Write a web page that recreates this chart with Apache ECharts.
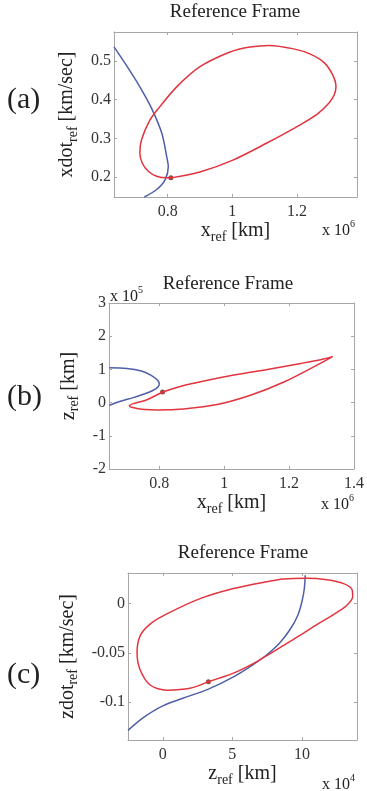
<!DOCTYPE html>
<html>
<head>
<meta charset="utf-8">
<script src="https://cdn.jsdelivr.net/npm/echarts@6/dist/echarts.min.js"></script>
<style>html,body{margin:0;padding:0;background:#fff;}#c{width:367px;height:791px;}</style>
</head>
<body>
<div id="c"></div>
<script>
// ---------- Panel (a): x_ref (x10^6 km) vs xdot_ref (km/sec)
var aRedX  = [0.810,0.900,1.000,1.107,1.210,1.265,1.300,1.316,1.321,1.312,1.285,1.240,1.190,1.115,1.055,0.993,0.900,0.828,0.776,0.745,0.719,0.714,0.722,0.740,0.766,0.797,0.810];
var aRedY  = [0.198,0.213,0.243,0.288,0.335,0.364,0.392,0.413,0.435,0.462,0.495,0.518,0.531,0.540,0.536,0.523,0.485,0.433,0.382,0.347,0.296,0.262,0.235,0.215,0.202,0.198,0.198];
var aBlueX = [0.634,0.675,0.714,0.750,0.782,0.797,0.802,0.792,0.766,0.728];
var aBlueY = [0.536,0.485,0.433,0.378,0.313,0.253,0.227,0.193,0.168,0.1486];
var aDot   = [0.810,0.198];
var aXTicks = [0.8,1,1.2];
var aYTicks = [0.2,0.3,0.4,0.5];

// ---------- Panel (b): x_ref (x10^6 km) vs z_ref (x10^5 km)
var bRedX  = [0.810,0.870,0.927,1.030,1.133,1.236,1.300,1.334,1.290,1.184,1.081,0.978,0.875,0.800,0.745,0.715,0.708,0.720,0.760,0.810];
var bRedY  = [0.32,0.50,0.63,0.83,1.00,1.18,1.30,1.385,1.15,0.62,0.22,-0.06,-0.19,-0.225,-0.20,-0.14,-0.10,-0.03,0.08,0.32];
var bBlueX = [0.646,0.700,0.745,0.775,0.795,0.800,0.790,0.760,0.720,0.680,0.646];
var bBlueY = [1.05,1.03,0.95,0.82,0.67,0.55,0.42,0.28,0.15,0.04,-0.08];
var bDot   = [0.810,0.32];
var bXTicks = [0.8,1,1.2,1.4];
var bYTicks = [-2,-1,0,1,2,3];

// ---------- Panel (c): z_ref (x10^4 km) vs zdot_ref (km/sec)
var cRedX  = [3.28,5.08,6.5,7.48,8.68,9.88,11.1,12.27,13.2,13.65,13.6,13.0,11.8,10.3,8.68,7.48,5.08,2.68,0.29,-0.91,-1.63,-1.85,-1.63,-0.91,0.29,1.96,3.28];
var cRedY  = [-0.0794,-0.0707,-0.061,-0.0528,-0.0425,-0.032,-0.021,-0.011,-0.002,0.007,0.0145,0.0205,0.0245,0.026,0.0252,0.0225,0.0155,0.0052,-0.0104,-0.0207,-0.0328,-0.05,-0.0673,-0.0828,-0.088,-0.0862,-0.0794];
var cBlueX = [-2.5,-1.4,0.0,1.5,3.28,5.08,6.5,7.48,8.4,9.16,9.7,10.0,10.17,10.24];
var cBlueY = [-0.129,-0.116,-0.104,-0.096,-0.087,-0.0745,-0.062,-0.052,-0.04,-0.026,-0.012,0.002,0.015,0.029];
var cDot   = [3.28,-0.0794];
var cXTicks = [0,5,10];
var cYTicks = [-0.1,-0.05,0];

var SERIF = "'Liberation Serif','DejaVu Serif',serif";
var RED = '#e2343f', BLUE = '#4e5fa8', DOT = '#7a1a1a', AX = '#a6a6a6';

function zip(xs, ys){ return xs.map(function(v,i){ return [v, ys[i]]; }); }

var grids = [
  {left:114, top:32, width:243, height:165},
  {left:109, top:303, width:247, height:166},
  {left:128, top:573, width:229, height:167}
];
var ranges = [
  {x:[0.634,1.386], y:[0.1486,0.5746], xt:aXTicks, yt:aYTicks},
  {x:[0.645,1.4],   y:[-2,3],          xt:bXTicks, yt:bYTicks},
  {x:[-2.5,13.96],  y:[-0.1388,0.0313], xt:cXTicks, yt:cYTicks}
];
var names = [
  {x:'{m|x}{s|ref}{m| [km]}', y:'{m|xdot}{s|ref}{m| [km/sec]}', xg:21, yg:27},
  {x:'{m|x}{s|ref}{m| [km]}', y:'{m|z}{s|ref}{m| [km]}', xg:21, yg:27},
  {x:'{m|z}{s|ref}{m| [km]}', y:'{m|zdot}{s|ref}{m| [km/sec]}', xg:21, yg:27}
];
var nameStyle = {
  fontFamily: SERIF, fontSize: 20, color: '#222',
  rich: {
    m: {fontFamily: SERIF, fontSize: 20, color: '#222'},
    s: {fontFamily: SERIF, fontSize: 14, color: '#222', padding: [12,0,0,0]}
  }
};

var xAxes = [], yAxes = [];
grids.forEach(function(g, i){
  var r = ranges[i];
  xAxes.push({
    type:'value', gridIndex:i, min:r.x[0], max:r.x[1], position:'bottom',
    name: names[i].x, nameLocation:'middle', nameGap:names[i].xg, nameTextStyle:nameStyle,
    splitLine:{show:false},
    axisLine:{show:true, onZero:false, lineStyle:{color:AX, width:1}},
    axisTick:{show:true, inside:true, length:3, lineStyle:{color:AX}, customValues:r.xt},
    axisLabel:{fontFamily:SERIF, fontSize:16, color:'#333', margin:7, customValues:r.xt, showMinLabel:true, showMaxLabel:true}
  });
  xAxes.push({
    type:'value', gridIndex:i, min:r.x[0], max:r.x[1], position:'top',
    splitLine:{show:false},
    axisLine:{show:true, onZero:false, lineStyle:{color:AX, width:1}},
    axisTick:{show:true, inside:true, length:3, lineStyle:{color:AX}, customValues:r.xt},
    axisLabel:{show:false}
  });
  yAxes.push({
    type:'value', gridIndex:i, min:r.y[0], max:r.y[1], position:'left',
    name: names[i].y, nameLocation:'middle', nameGap:names[i].yg, nameRotate:90, nameTextStyle:nameStyle,
    splitLine:{show:false},
    axisLine:{show:true, onZero:false, lineStyle:{color:AX, width:1}},
    axisTick:{show:true, inside:true, length:3, lineStyle:{color:AX}, customValues:r.yt},
    axisLabel:{fontFamily:SERIF, fontSize:16, color:'#333', margin:3, customValues:r.yt, showMinLabel:true, showMaxLabel:true}
  });
  yAxes.push({
    type:'value', gridIndex:i, min:r.y[0], max:r.y[1], position:'right',
    splitLine:{show:false},
    axisLine:{show:true, onZero:false, lineStyle:{color:AX, width:1}},
    axisTick:{show:true, inside:true, length:3, lineStyle:{color:AX}, customValues:r.yt},
    axisLabel:{show:false}
  });
});

function lineSeries(i, data, color){
  return {type:'line', xAxisIndex:2*i, yAxisIndex:2*i, data:data, showSymbol:false, symbol:'none',
          smooth:0.3, lineStyle:{color:color, width:1.5}, clip:true, silent:true, animation:false};
}
function dotSeries(i, d){
  return {type:'scatter', xAxisIndex:2*i, yAxisIndex:2*i, data:[d], symbolSize:5,
          itemStyle:{color:DOT}, silent:true, animation:false};
}

var series = [
  lineSeries(0, zip(aBlueX,aBlueY), BLUE),
  lineSeries(0, zip(aRedX,aRedY), RED),
  dotSeries(0, aDot),
  lineSeries(1, zip(bBlueX,bBlueY), BLUE),
  lineSeries(1, zip(bRedX,bRedY), RED),
  dotSeries(1, bDot),
  lineSeries(2, zip(cBlueX,cBlueY), BLUE),
  lineSeries(2, zip(cRedX,cRedY), RED),
  dotSeries(2, cDot)
];

function txt(t, x, y, size, align, vAlign){
  return {type:'text', x:x, y:y, silent:true,
          style:{text:t, font: size + 'px ' + SERIF, fill:'#222', align:align||'left', verticalAlign:vAlign||'middle'}};
}

var graphic = [
  txt('Reference Frame', 235, 12, 19, 'center'),
  txt('Reference Frame', 228, 284, 19, 'center'),
  txt('Reference Frame', 243, 553, 19, 'center'),
  txt('(a)', 7, 100, 30, 'left'),
  txt('(b)', 7, 397, 30, 'left'),
  txt('(c)', 7, 675, 30, 'left'),
  // multipliers
  txt('x 10', 322, 231, 16, 'left'), txt('6', 350, 224, 10, 'left'),
  txt('x 10', 110, 297, 16, 'left'), txt('5', 138, 290, 10, 'left'),
  txt('x 10', 321, 505, 16, 'left'), txt('6', 349, 498, 10, 'left'),
  txt('x 10', 322, 785, 16, 'left'), txt('4', 350, 778, 10, 'left')
];

var chart = echarts.init(document.getElementById('c'), null, {renderer:'canvas'});
chart.setOption({
  animation:false,
  backgroundColor:'#fff',
  grid: grids.map(function(g){ return Object.assign({containLabel:false, show:false}, g); }),
  xAxis: xAxes,
  yAxis: yAxes,
  series: series,
  graphic: graphic
});
</script>
</body>
</html>
